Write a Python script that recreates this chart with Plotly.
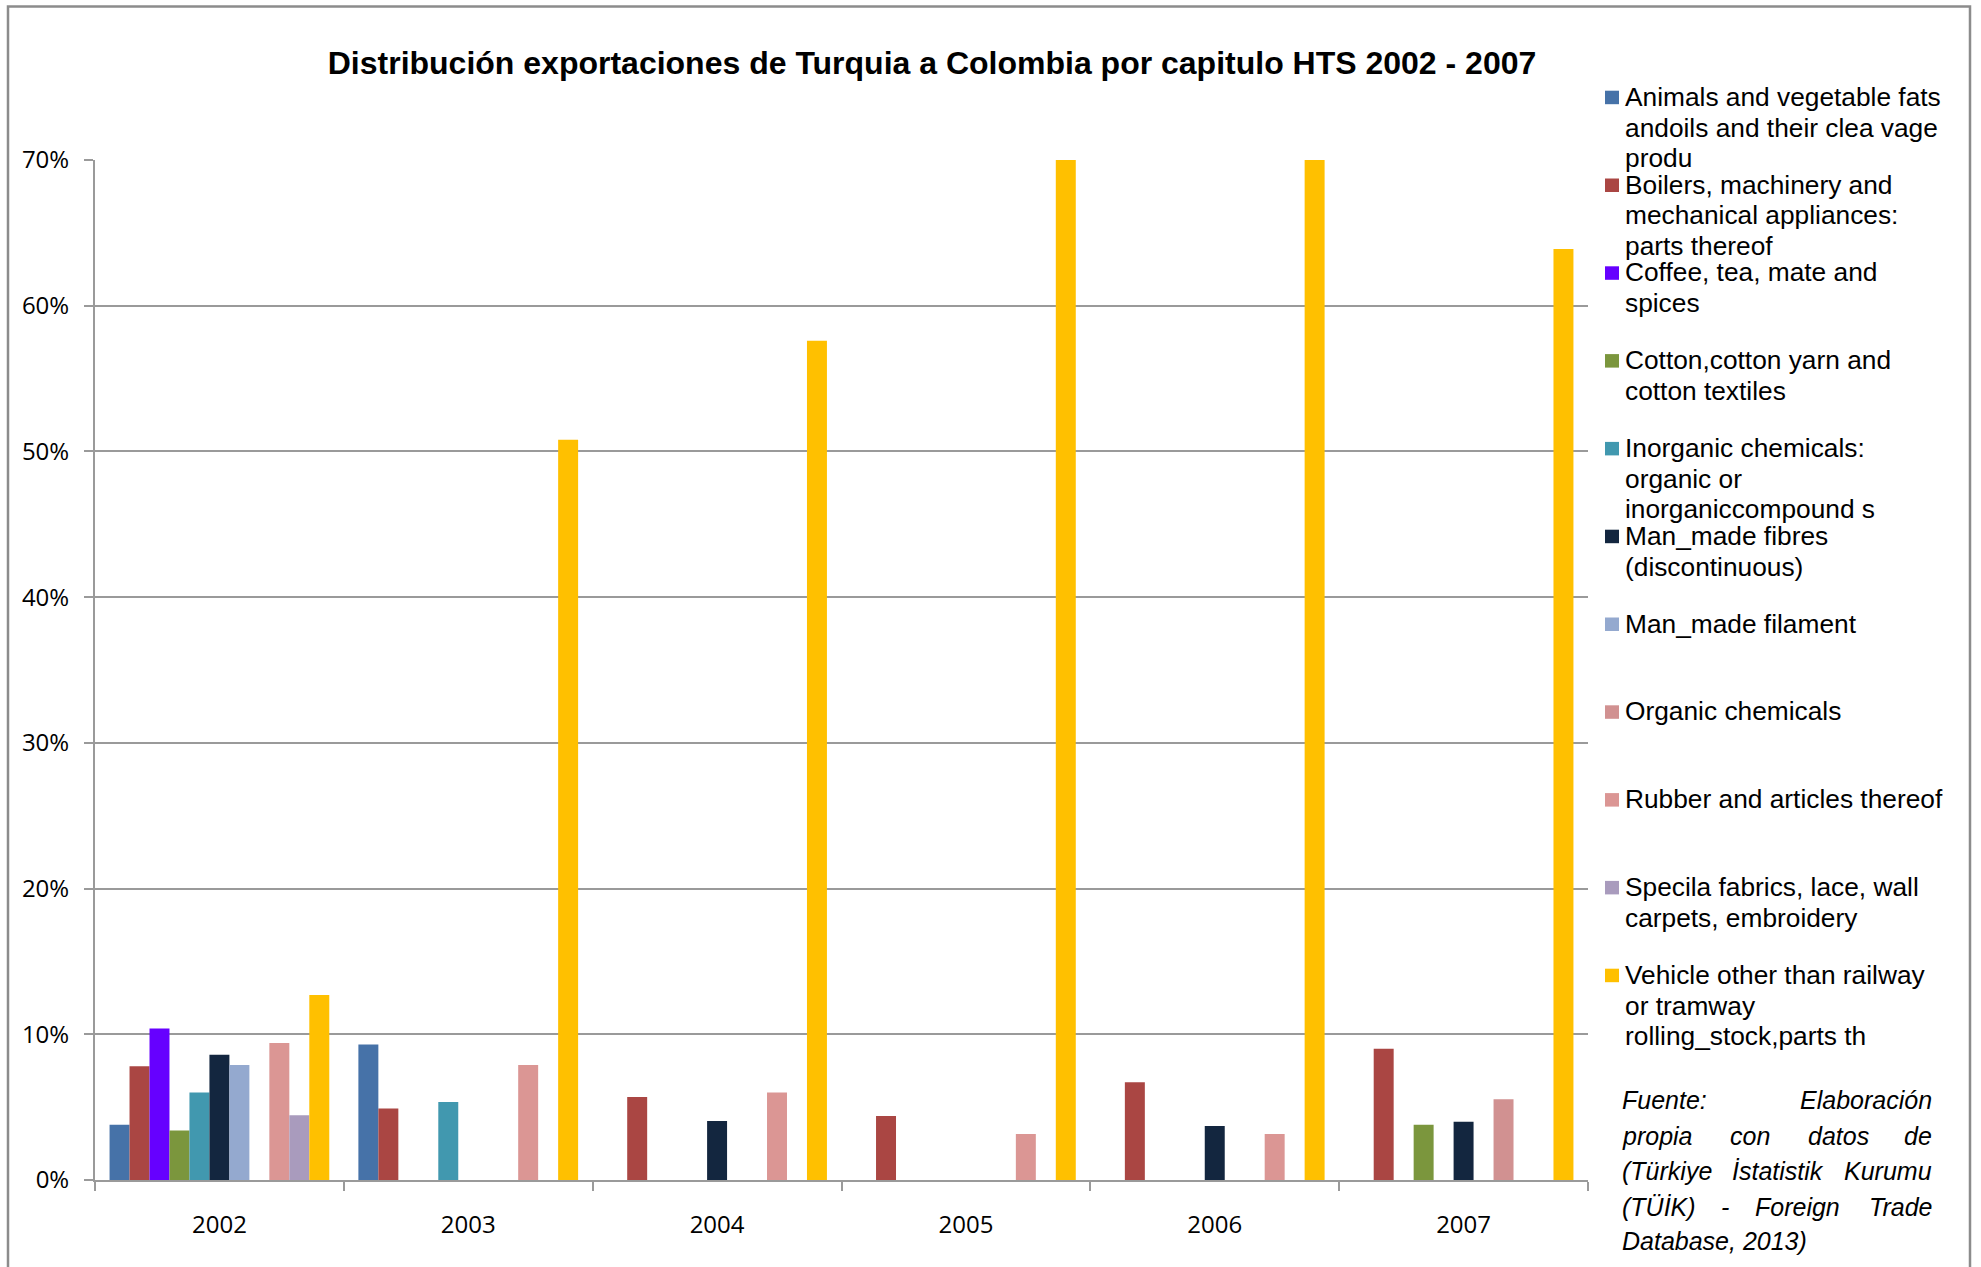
import plotly.graph_objects as go

# ---------------- data ----------------
years = ["2002", "2003", "2004", "2005", "2006", "2007"]

series_names = [
    "Animals and vegetable fats andoils and their clea vage produ",
    "Boilers, machinery and mechanical appliances: parts thereof",
    "Coffee, tea, mate and spices",
    "Cotton,cotton yarn and cotton textiles",
    "Inorganic chemicals: organic or inorganiccompound s",
    "Man_made fibres (discontinuous)",
    "Man_made filament",
    "Organic chemicals",
    "Rubber and articles thereof",
    "Specila fabrics, lace, wall carpets, embroidery",
    "Vehicle other than railway or tramway rolling_stock,parts th",
]
legend_lines = [
    ["Animals and vegetable fats", "andoils and their clea vage", "produ"],
    ["Boilers, machinery and", "mechanical appliances:", "parts thereof"],
    ["Coffee, tea, mate and", "spices"],
    ["Cotton,cotton yarn and", "cotton textiles"],
    ["Inorganic chemicals:", "organic or", "inorganiccompound s"],
    ["Man_made fibres", "(discontinuous)"],
    ["Man_made filament"],
    ["Organic chemicals"],
    ["Rubber and articles thereof"],
    ["Specila fabrics, lace, wall", "carpets, embroidery"],
    ["Vehicle other than railway", "or tramway", "rolling_stock,parts th"],
]

animals   = [3.8, 9.3, None, None, None, None]
boilers   = [7.8, 4.9, 5.7, 4.4, 6.7, 9.0]
coffee    = [10.4, None, None, None, None, None]
cotton    = [3.4, None, None, None, None, 3.8]
inorganic = [6.0, 5.35, None, None, None, None]
fibres    = [8.6, None, 4.05, None, 3.7, 4.0]
filament  = [7.9, None, None, None, None, None]
organic   = [None, None, None, None, None, 5.55]
rubber    = [9.4, 7.9, 6.0, 3.15, 3.15, None]
specila   = [4.45, None, None, None, None, None]
vehicle   = [12.7, 50.8, 57.6, 80.0, 80.0, 63.9]

series_values = [animals, boilers, coffee, cotton, inorganic, fibres,
                 filament, organic, rubber, specila, vehicle]

colors = ["#4672A8", "#AA4643", "#6600FF", "#7B963D", "#4198AF", "#13263F",
          "#94A9CF", "#D19191", "#DB9694", "#A99BBD", "#FFC000"]

y_ticks = [0, 10, 20, 30, 40, 50, 60, 70]
y_tick_labels = ["0%", "10%", "20%", "30%", "40%", "50%", "60%", "70%"]

title_text = "Distribución exportaciones de Turquia a Colombia por capitulo HTS 2002 - 2007"
source_lines = [
    ["Fuente:", "Elaboración"],
    ["propia", "con", "datos", "de"],
    ["(Türkiye", "İstatistik", "Kurumu"],
    ["(TÜİK)", "-", "Foreign", "Trade"],
    ["Database, 2013)"],
]

# ---------------- layout geometry ----------------
W, H = 1981, 1267
L, R, T, B = 95, 1588, 160, 1180


def px(x):
    return (x - L) / (R - L)


def py(y):
    return (B - y) / (B - T)


fig = go.Figure()
for name, vals, col in zip(series_names, series_values, colors):
    fig.add_trace(go.Bar(
        x=years, y=vals, name=name,
        marker=dict(color=col, line=dict(width=0)),
        showlegend=False,
    ))

AX = "#9a9a9a"
fig.update_layout(
    width=W, height=H,
    margin=dict(l=L, r=W - R, t=T, b=H - B, pad=0),
    paper_bgcolor="white", plot_bgcolor="white",
    barmode="group", bargap=0.117, bargroupgap=0,
    title=dict(text=title_text, x=932 / W, xanchor="center",
               y=1 - 63 / H, yanchor="middle", yref="container",
               font=dict(family="Liberation Sans, Arial", size=32,
                         color="black", weight="bold")),
    xaxis=dict(type="category", showgrid=False, showline=True,
               linecolor=AX, linewidth=2, ticks="outside",
               tickson="boundaries", ticklen=9, tickcolor=AX, tickwidth=2,
               tickfont=dict(family="Open Sans", size=24, color="black"),
               ticklabelstandoff=22),
    yaxis=dict(range=[0, 70], tickmode="array", tickvals=y_ticks,
               ticktext=y_tick_labels,
               showgrid=True, gridcolor=AX, gridwidth=2,
               showline=True, linecolor=AX, linewidth=2,
               ticks="outside", ticklen=9, tickcolor=AX, tickwidth=2,
               zeroline=False,
               tickfont=dict(family="Open Sans", size=24, color="black"),
               ticklabelstandoff=10),
)

shapes = []
annotations = []

# outer border (left, top, right)
shapes.append(dict(type="path", xref="paper", yref="paper",
                   path=f"M {px(8)} {py(1300)} L {px(8)} {py(6.5)} L {px(1970)} {py(6.5)} L {px(1970)} {py(1300)}",
                   line=dict(color="#8c8c8c", width=2.5)))

# manual legend
LEG_FS = 26.3
for k, (lines, col) in enumerate(zip(legend_lines, colors)):
    y0 = 90.7 + 87.8 * k
    shapes.append(dict(type="rect", xref="paper", yref="paper",
                       x0=px(1605), x1=px(1619), y0=py(y0), y1=py(y0 + 13.5),
                       fillcolor=col, line=dict(width=0)))
    for j, t in enumerate(lines):
        base = y0 + 15.3 + 30.7 * j
        annotations.append(dict(text=t, xref="paper", yref="paper",
                                x=px(1624), y=py(base - 0.3465 * LEG_FS),
                                xanchor="left", yanchor="middle", showarrow=False,
                                borderpad=0,
                                font=dict(family="Liberation Sans, Arial", size=LEG_FS, color="black")))

# source note (justified by word placement)
SRC_FS = 25
baselines = [1108.7, 1144.4, 1180.0, 1215.3, 1249.6]
word_pos = [
    [(1621, "left"), (1933, "right")],
    [(1621, "left"), (1749.7, "center"), (1838, "center"), (1933, "right")],
    [(1621, "left"), (1777.8, "center"), (1933, "right")],
    [(1621, "left"), (1725.3, "center"), (1797.8, "center"), (1933, "right")],
    [(1621, "left")],
]
for words, poss, base in zip(source_lines, word_pos, baselines):
    for w, (xx, anc) in zip(words, poss):
        annotations.append(dict(text=w, xref="paper", yref="paper",
                                x=px(xx), y=py(base - 0.3465 * SRC_FS),
                                xanchor=anc, yanchor="middle", showarrow=False,
                                borderpad=0,
                                font=dict(family="Liberation Sans, Arial", size=SRC_FS,
                                          color="black", style="italic")))

fig.update_layout(shapes=shapes, annotations=annotations)

fig.write_html("out.html", config={"displayModeBar": False},
               post_script="document.body.style.margin='0';")
